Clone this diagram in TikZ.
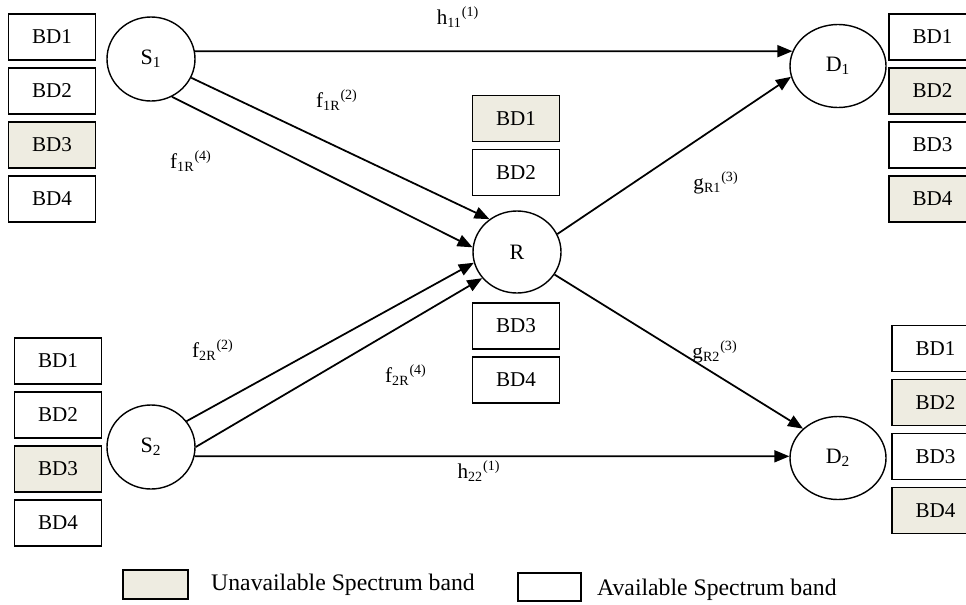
\documentclass[tikz,border=0pt]{standalone}
\usepackage{fontspec}
\setmainfont{Liberation Serif}
\usetikzlibrary{arrows.meta,positioning,shapes.geometric}
\definecolor{busy}{HTML}{EEECE1}
\tikzset{
  band/.style={draw, line width=1pt, minimum width=1.74cm, minimum height=0.92cm,
    inner sep=0pt, font=\fontsize{12}{14}\selectfont},
  busyband/.style={band, fill=busy},
  user/.style={draw, ellipse, line width=0.8pt, inner sep=0pt,
    minimum width=1.76cm, minimum height=1.68cm, font=\fontsize{12.5}{14}\selectfont},
  dest/.style={user, minimum width=1.92cm, minimum height=1.66cm},
  link/.style={line width=1pt, -{Triangle[length=3mm,width=2.4mm]}},
  gain/.style={inner sep=0pt, font=\fontsize{12}{14}\selectfont},
  legend/.style={inner sep=0pt, font=\fontsize{13.5}{15}\selectfont},
}

\begin{document}
\begin{tikzpicture}[node distance=1.08cm]
  \clip (0,0) rectangle (19.32,12.08);

  % sources, relay and destinations
  \node(S1)[user] at (3.02,10.90){S\textsubscript{1}};
  \node(S2)[user] at (3.02,3.14){S\textsubscript{2}};
  \node(R)[user, minimum height=1.64cm] at (10.34,7.04){R};
  \node(D1)[dest] at (16.76,10.76){D\textsubscript{1}};
  \node(D2)[dest] at (16.76,2.92){D\textsubscript{2}};

  % bands at S1
  \node(sa1)[band] at (1.04,11.34){BD1};
  \node(sa2)[band, below of=sa1]{BD2};
  \node(sa3)[busyband, below of=sa2]{BD3};
  \node(sa4)[band, below of=sa3]{BD4};

  % bands at S2
  \node(sb1)[band] at (1.16,4.86){BD1};
  \node(sb2)[band, below of=sb1]{BD2};
  \node(sb3)[busyband, below of=sb2]{BD3};
  \node(sb4)[band, below of=sb3]{BD4};

  % bands at R
  \node(r1)[busyband] at (10.32,9.71){BD1};
  \node(r2)[band, below of=r1]{BD2};
  \node(r3)[band] at (10.32,5.56){BD3};
  \node(r4)[band, below of=r3]{BD4};

  % bands at D1
  \node(da1)[band] at (18.65,11.34){BD1};
  \node(da2)[busyband, below of=da1]{BD2};
  \node(da3)[band, below of=da2]{BD3};
  \node(da4)[busyband, below of=da3]{BD4};

  % bands at D2
  \node(db1)[band] at (18.71,5.11){BD1};
  \node(db2)[busyband, below of=db1]{BD2};
  \node(db3)[band, below of=db2]{BD3};
  \node(db4)[busyband, below of=db3]{BD4};

  % links
  \draw[link](S1.10) to (D1.162);
  \draw[link](S2.-12) to (D2.178);
  \draw[link](S1.-25) to (R.130);
  \draw[link](S1.-61) to (R.174);
  \draw[link](S2.36) to (R.194);
  \draw[link](S2.0) to (R.217);
  \draw[link](R.24) to (D1.193);
  \draw[link](R.-31) to (D2.140);

  % channel gains
  \node(h11)[gain] at (9.16,11.74){h\textsubscript{11}\textsuperscript{(1)}};
  \node(h22)[gain, anchor=north] at (9.58,2.87){h\textsubscript{22}\textsuperscript{(1)}};
  \node(f1R2)[gain] at (6.74,10.08){f\textsubscript{1R}\textsuperscript{(2)}};
  \node(f1R4)[gain] at (3.82,8.86){f\textsubscript{1R}\textsuperscript{(4)}};
  \node(f2R2)[gain] at (4.26,5.08){f\textsubscript{2R}\textsuperscript{(2)}};
  \node(f2R4)[gain] at (8.12,4.58){f\textsubscript{2R}\textsuperscript{(4)}};
  \node(gR1)[gain] at (14.32,8.42){g\textsubscript{R1}\textsuperscript{(3)}};
  \node(gR2)[gain] at (14.30,5.04){g\textsubscript{R2}\textsuperscript{(3)}};

  % legend
  \node(busykey)[busyband, minimum width=1.3cm, minimum height=0.58cm] at (3.11,0.39){};
  \node(busytext)[legend, right=0.44cm of busykey]{Unavailable Spectrum band};
  \node(freekey)[band, minimum width=1.26cm, minimum height=0.56cm] at (10.99,0.34){};
  \node(freetext)[legend, right=0.3cm of freekey, yshift=-0.05cm]{Available Spectrum band};
\end{tikzpicture}
\end{document}
